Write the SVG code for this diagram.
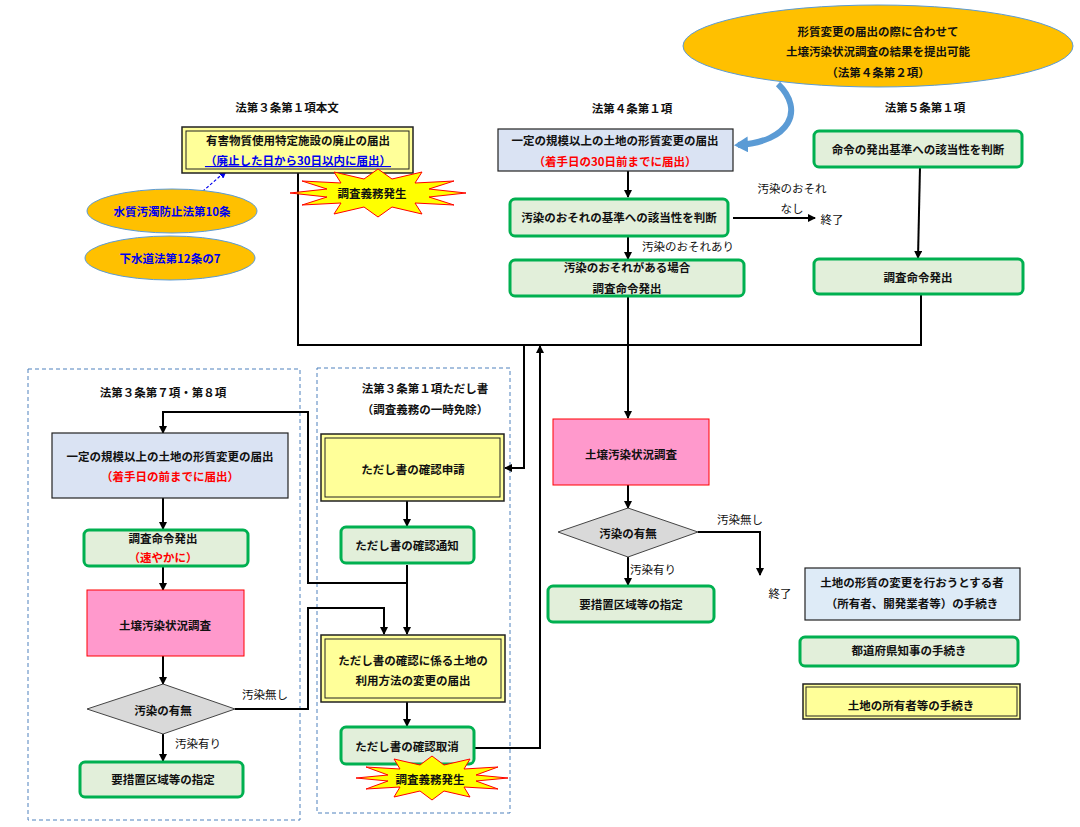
<svg xmlns="http://www.w3.org/2000/svg" width="1080" height="827" viewBox="0 0 1080 827">
<style>
text{font-family:"Noto Sans CJK JP","Noto Sans",sans-serif;font-size:11.5px;font-weight:bold;fill:#111;text-anchor:middle;dominant-baseline:central}
.red{fill:#ff0000}.blu{fill:#0000ee}
.g{fill:#e2efda;stroke:#00b050;stroke-width:3}
.b{fill:#dae3f3;stroke:#222;stroke-width:1.2}
.y{fill:#ffff99;stroke:#222;stroke-width:1.5}
.yi{fill:none;stroke:#222;stroke-width:1}
.p{fill:#ff99cc;stroke:#ff0000;stroke-width:1}
.d{fill:#d9d9d9;stroke:#444;stroke-width:1}
.o{fill:#ffc000;stroke:#5b9bd5;stroke-width:1}
.c{fill:none;stroke:#000;stroke-width:2}
.a{marker-end:url(#ar)}
.dash{fill:none;stroke:#4f81bd;stroke-width:1;stroke-dasharray:4 3}
.star{fill:#ffff00;stroke:#ff0000;stroke-width:1}
.n{font-weight:normal}
</style>
<defs>
<marker id="ar" markerWidth="8" markerHeight="8" refX="7" refY="4" orient="auto" markerUnits="userSpaceOnUse" viewBox="0 0 8 8"><path d="M0,0 L8,4 L0,8z" fill="#000"/></marker>
<marker id="ab" markerWidth="8" markerHeight="8" refX="7" refY="4" orient="auto" markerUnits="userSpaceOnUse" viewBox="0 0 8 8"><path d="M0,0 L8,4 L0,8z" fill="#0000ee"/></marker>
<marker id="ac" markerWidth="16" markerHeight="16" refX="10" refY="8" orient="auto" markerUnits="userSpaceOnUse" viewBox="0 0 16 16"><path d="M0,0 L14,8 L0,16z" fill="#5b9bd5"/></marker>
</defs>
<rect width="1080" height="827" fill="#fff"/>
<rect class="dash" x="28" y="369" width="272" height="451"/>
<rect class="dash" x="317" y="368" width="193" height="445"/>
<text x="287" y="107">法第３条第１項本文</text>
<text x="632" y="108">法第４条第１項</text>
<text x="925" y="107">法第５条第１項</text>
<text x="163" y="392">法第３条第７項・第８項</text>
<text x="425" y="388">法第３条第１項ただし書</text>
<text x="425" y="409">（調査義務の一時免除）</text>
<g id="connectors">
<path class="c" d="M298,173 V345 H921 V294"/>
<path class="c a" d="M628,296 V418"/>
<path class="c a" d="M524,345 V468 H505"/>
<path class="c a" d="M474,748 H540 V346"/>
<path class="c a" d="M628,171 V197"/>
<path class="c a" d="M733,218 H815"/>
<path class="c a" d="M628,236 V259"/>
<path class="c a" d="M920,167 L918,258"/>
<path class="c a" d="M628,485 V508"/>
<path class="c a" d="M698,532 H760 V575"/>
<path class="c a" d="M628,557 V585"/>
<path class="c a" d="M407,565 V634"/>
<path class="c a" d="M407,583 H308 V412 H163 V433"/>
<path class="c a" d="M163,498 V529"/>
<path class="c a" d="M163,566 V590"/>
<path class="c a" d="M163,656 V684"/>
<path class="c a" d="M235,709 H308 V608 H384 V634"/>
<path class="c a" d="M163,734 V761"/>
<path class="c a" d="M407,501 V526"/>
<path class="c a" d="M407,702 V726"/>
<path d="M195,198 L226,171" fill="none" stroke="#0000ee" stroke-width="1.2" stroke-dasharray="3 2" marker-end="url(#ab)"/>
<path d="M778,84 C805,110 790,142 738,145" fill="none" stroke="#5b9bd5" stroke-width="6" marker-end="url(#ac)"/>
<text class="n" x="792" y="188">汚染のおそれ</text>
<text class="n" x="792" y="208">なし</text>
<text class="n" x="688" y="246">汚染のおそれあり</text>
<text class="n" x="740" y="519">汚染無し</text>
<text class="n" x="653" y="569">汚染有り</text>
<text class="n" x="265" y="694">汚染無し</text>
<text class="n" x="198" y="743">汚染有り</text>
</g>
<g id="n1"><rect class="y" x="182" y="127" width="231" height="46"/><rect class="yi" x="186" y="131" width="223" height="38"/><text x="298" y="140">有害物質使用特定施設の廃止の届出</text><text class="blu" x="298" y="160" text-decoration="underline">（廃止した日から30日以内に届出）</text></g>
<g id="s1"><polygon class="star" points="466,193 429,197 454,205 415,203 422,214 392,207 378,217 364,207 334,214 341,203 302,205 327,197 290,193 327,189 302,181 341,183 334,172 364,179 378,169 392,179 422,172 415,183 454,181 429,189"/><text x="372" y="193">調査義務発生</text></g>
<g id="e1"><ellipse class="o" cx="172" cy="211" rx="85" ry="22"/><text class="blu" x="172" y="211">水質汚濁防止法第10条</text></g>
<g id="e2"><ellipse class="o" cx="170" cy="258" rx="85" ry="22"/><text class="blu" x="170" y="258">下水道法第12条の7</text></g>
<g id="e3"><ellipse class="o" cx="878" cy="46" rx="195" ry="41"/><text x="878" y="31">形質変更の届出の際に合わせて</text><text x="878" y="51">土壌汚染状況調査の結果を提出可能</text><text x="878" y="72">（法第４条第２項）</text></g>
<g id="n2"><rect class="b" x="498" y="129" width="235" height="42"/><text x="615" y="140">一定の規模以上の土地の形質変更の届出</text><text class="red" x="615" y="161">（着手日の30日前までに届出）</text></g>
<g id="n3"><rect class="g" x="510" y="199" width="218" height="37" rx="5"/><text x="619" y="217">汚染のおそれの基準への該当性を判断</text></g>
<text class="n" x="832" y="219">終了</text>
<g id="n4"><rect class="g" x="510" y="260" width="234" height="36" rx="5"/><text x="627" y="267">汚染のおそれがある場合</text><text x="627" y="288">調査命令発出</text></g>
<g id="n5"><rect class="g" x="814" y="131" width="208" height="36" rx="5"/><text x="918" y="149">命令の発出基準への該当性を判断</text></g>
<g id="n6"><rect class="g" x="814" y="259" width="209" height="35" rx="5"/><text x="918" y="277">調査命令発出</text></g>
<g id="n7"><rect class="p" x="553" y="419" width="156" height="66"/><text x="631" y="454">土壌汚染状況調査</text></g>
<g id="n8"><polygon class="d" points="558,532 628,508 698,532 628,557"/><text x="628" y="533">汚染の有無</text></g>
<text class="n" x="780" y="593">終了</text>
<g id="n9"><rect class="g" x="548" y="586" width="166" height="36" rx="5"/><text x="631" y="604">要措置区域等の指定</text></g>
<g id="l1"><rect class="b" x="805" y="568" width="215" height="52" style="fill:#deebf7"/><text x="912" y="582">土地の形質の変更を行おうとする者</text><text x="912" y="603">（所有者、開発業者等）の手続き</text></g>
<g id="l2"><rect class="g" x="800" y="637" width="218" height="29" rx="5"/><text x="909" y="650">都道府県知事の手続き</text></g>
<g id="l3"><rect class="y" x="803" y="684" width="217" height="35"/><rect class="yi" x="806" y="687" width="211" height="29"/><text x="911" y="705">土地の所有者等の手続き</text></g>
<g id="m1"><rect class="b" x="52" y="433" width="236" height="65"/><text x="170" y="456">一定の規模以上の土地の形質変更の届出</text><text class="red" x="170" y="476">（着手日の前までに届出）</text></g>
<g id="m2"><rect class="g" x="84" y="530" width="164" height="36" rx="5"/><text x="163" y="538">調査命令発出</text><text class="red" x="163" y="557">（速やかに）</text></g>
<g id="m3"><rect class="p" x="87" y="590" width="157" height="66"/><text x="165" y="625">土壌汚染状況調査</text></g>
<g id="m4"><polygon class="d" points="87,709 163,684 235,709 163,734"/><text x="163" y="710">汚染の有無</text></g>
<g id="m5"><rect class="g" x="80" y="762" width="163" height="35" rx="5"/><text x="163" y="779">要措置区域等の指定</text></g>
<g id="t1"><rect class="y" x="321" y="434" width="183" height="67"/><rect class="yi" x="325" y="438" width="175" height="59"/><text x="413" y="469">ただし書の確認申請</text></g>
<g id="t2"><rect class="g" x="341" y="527" width="133" height="36" rx="5"/><text x="407" y="545">ただし書の確認通知</text></g>
<g id="t3"><rect class="y" x="321" y="635" width="184" height="67"/><rect class="yi" x="325" y="639" width="176" height="59"/><text x="413" y="660">ただし書の確認に係る土地の</text><text x="413" y="680">利用方法の変更の届出</text></g>
<g id="t4"><rect class="g" x="341" y="727" width="133" height="37" rx="5"/><text x="407" y="746">ただし書の確認取消</text></g>
<g id="s2"><polygon class="star" points="508,778 476,781 498,789 464,787 470,797 444,791 432,800 420,791 394,797 400,787 366,789 388,781 356,778 388,775 366,767 400,769 394,759 420,765 432,756 444,765 470,759 464,769 498,767 476,775"/><text x="430" y="779">調査義務発生</text></g>
</svg>
